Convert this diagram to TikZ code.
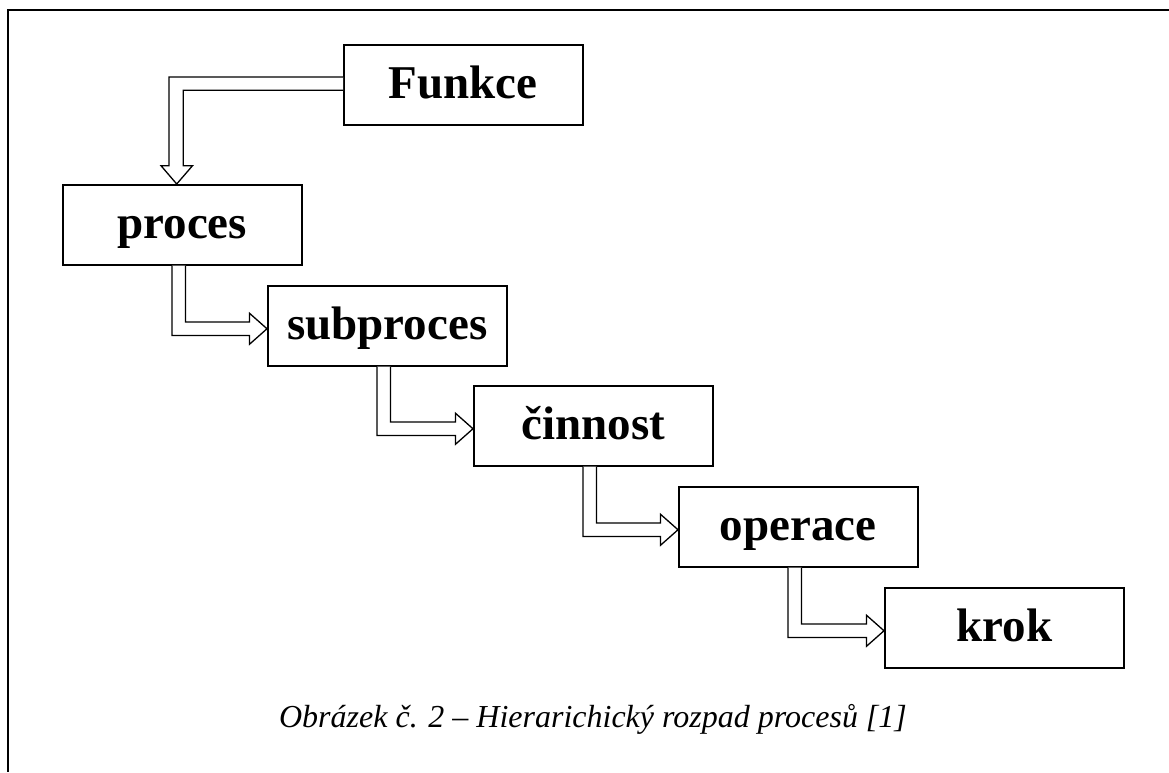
\documentclass[tikz,border=0pt]{standalone}
\usepackage{fontspec}
\setmainfont{Liberation Serif}
\usetikzlibrary{calc}
\tikzset{
  box/.style={draw=black, line width=1.5pt, fill=white, minimum width=239pt, minimum height=80pt,
    inner sep=0pt, anchor=north west, text height=34pt, text depth=7pt,
    font=\fontsize{47}{50}\selectfont\bfseries},
  barrow/.style={draw=black, line width=1.3pt, fill=white, line join=miter},
  frameline/.style={draw=black, line width=2pt},
  caption/.style={font=\fontsize{32}{36}\selectfont\itshape, anchor=base, inner sep=0pt}
}
\newcommand{\stepconn}[2]{%
  \draw[barrow] let \p1=(#1.south west), \p2=(#2.west) in
    (\x1+110pt,\y1) -- (\x1+110pt,\y2-9.7pt) -- (\x2-17.5pt,\y2-9.7pt) -- (\x2-17.5pt,\y2-18.5pt)
    -- (\x2,\y2-3pt) -- (\x2-17.5pt,\y2+12.5pt) -- (\x2-17.5pt,\y2+3.7pt)
    -- (\x1+123.5pt,\y2+3.7pt) -- (\x1+123.5pt,\y1);}
\begin{document}
\begin{tikzpicture}[x=1pt,y=-1pt]
\useasboundingbox (0,0) rectangle (1169,772);
\fill[white] (0,0) rectangle (1169,772);
\coordinate (ftl) at (8,10);
\coordinate (ftr) at (1169,10);
\coordinate (fbl) at (8,772);
\draw[frameline] (ftr) -- (ftl) -- (fbl);

\node[box] (funkce) at (343,44) {Funkce};
\node[box] (proces) at (62,184) {proces};
\node[box] (subproces) at (267,285) {subproces};
\node[box] (cinnost) at (473,385) {činnost};
\node[box] (operace) at (678,486) {operace};
\node[box] (krok) at (884,587) {krok};

\draw[barrow] let \p1=(funkce.west), \p2=(proces.north west) in
  (\x1,\y1+7.8pt) -- (\x2+107pt,\y1+7.8pt) -- (\x2+107pt,\y2+18.3pt) -- (\x2+99pt,\y2+18.3pt)
  -- (\x2+114.7pt,\y2) -- (\x2+130.5pt,\y2+18.3pt) -- (\x2+121.3pt,\y2+18.3pt)
  -- (\x2+121.3pt,\y1-5.5pt) -- (\x1,\y1-5.5pt);

\stepconn{proces}{subproces}
\stepconn{subproces}{cinnost}
\stepconn{cinnost}{operace}
\stepconn{operace}{krok}

\node[caption] (cap) at (593,727) {Obrázek č. 2 – Hierarichický rozpad procesů [1]};
\end{tikzpicture}
\end{document}
